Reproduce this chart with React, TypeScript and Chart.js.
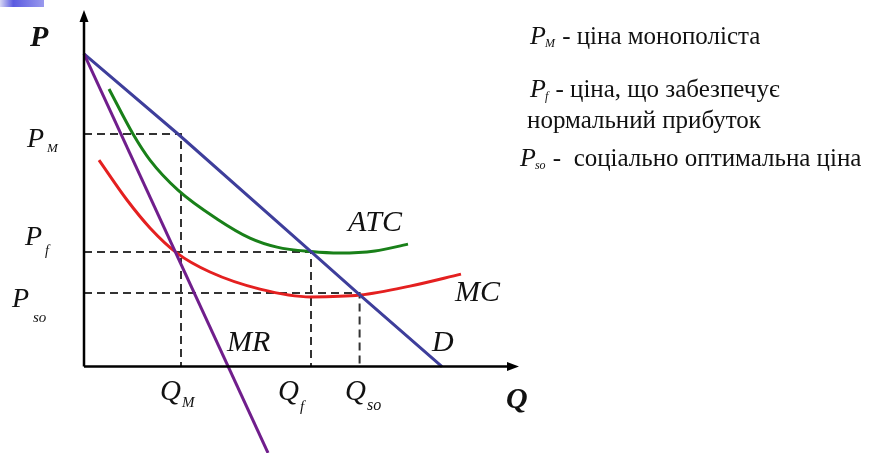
import React, { useEffect, useRef } from "react";
import { Chart, registerables } from "chart.js";

Chart.register(...registerables);

// ---- data (Q = quantity units, P = price units) ----
const demandQ = [0, 23.5, 56.75, 69, 89.5];
const demandP = [104.2, 77.5, 38.3, 23.8, 0];

const mrQ = [0, 46];
const mrP = [104.2, -28.8];

const atcQ = [6.25, 12.25, 16.5, 23.5, 33.25, 41.5, 48.25, 56.75, 64, 72.75, 81];
const atcP = [92.5, 77.5, 68.8, 58.8, 49.2, 42.8, 39.8, 38.3, 37.8, 38.5, 40.8];

const mcQ = [3.75, 10.75, 16.5, 23.25, 31.5, 44, 56.75, 69, 81.5, 94.25];
const mcP = [68.8, 55.5, 46.2, 37.8, 31.5, 25.8, 23.2, 23.8, 26.8, 30.8];

const priceLevels = [77.5, 38.2, 24.5]; // P_M, P_f, P_so
const quantityLevels = [24.25, 56.75, 68.9]; // Q_M, Q_f, Q_so

const axisEndQ = 108.75;
const axisEndP = 118.8;

const xRange = [-21, 196.75];
const yRange = [-28.83, 122.17];

const legendLines = [
  { main: "P", sub: "M", text: " - ціна монополіста" },
  { main: "P", sub: "f", text: " - ціна, що забезпечує" },
  { main: "", sub: "", text: "нормальний прибуток" },
  { main: "P", sub: "so", text: " -  соціально оптимальна ціна" },
];

const SERIF = '"Liberation Serif", "Times New Roman", serif';

const pts = (xs: number[], ys: number[]) => xs.map((x, i) => ({ x, y: ys[i] }));

const D_COLOR = "rgb(62,62,155)";
const MR_COLOR = "rgb(112,30,140)";
const ATC_COLOR = "rgb(25,128,25)";
const MC_COLOR = "rgb(228,32,32)";
const DASH_COLOR = "#333333";

const overlayPlugin = {
  id: "econOverlay",
  afterDatasetsDraw(chart: any) {
    const ctx: CanvasRenderingContext2D = chart.ctx;
    const xs = chart.scales.x;
    const ys = chart.scales.y;
    const px = (v: number) => xs.getPixelForValue(v);
    const py = (v: number) => ys.getPixelForValue(v);

    ctx.save();
    // axes
    const ox = px(0);
    const oy = py(0);
    const tx = px(axisEndQ);
    const ty = py(axisEndP);
    ctx.strokeStyle = "#000";
    ctx.fillStyle = "#000";
    ctx.lineWidth = 2.5;
    ctx.beginPath();
    ctx.moveTo(ox, oy);
    ctx.lineTo(ox, ty + 8);
    ctx.moveTo(ox, oy);
    ctx.lineTo(tx - 8, oy);
    ctx.stroke();
    // arrowheads
    ctx.beginPath();
    ctx.moveTo(ox, ty);
    ctx.lineTo(ox - 4.5, ty + 12);
    ctx.lineTo(ox + 4.5, ty + 12);
    ctx.closePath();
    ctx.fill();
    ctx.beginPath();
    ctx.moveTo(tx, oy);
    ctx.lineTo(tx - 12, oy - 4.5);
    ctx.lineTo(tx - 12, oy + 4.5);
    ctx.closePath();
    ctx.fill();

    ctx.fillStyle = "#111";
    ctx.textBaseline = "middle";
    ctx.textAlign = "left";
    const put = (t: string, x: number, y: number, font: string) => {
      ctx.font = font;
      ctx.fillText(t, x, y);
    };
    const it = (s: number) => `italic ${s}px ${SERIF}`;
    const bit = (s: number) => `italic bold ${s}px ${SERIF}`;

    // axis titles
    put("P", 30, 38, bit(30));
    put("Q", 506, 400, bit(30));

    // price labels
    put("P", 27, 140, it(28));
    put("M", 47, 149, it(13));
    put("P", 25, 238, it(28));
    put("f", 45, 251, it(14));
    put("P", 12, 300, it(28));
    put("so", 33, 318, it(15));

    // quantity labels
    put("Q", 160, 392, it(29));
    put("M", 182, 403, it(15));
    put("Q", 278, 392, it(29));
    put("f", 300, 407, it(15));
    put("Q", 345, 392, it(29));
    put("so", 367, 406, it(16));

    // curve labels
    put("MR", 227, 343, it(30));
    put("D", 432, 343, it(30));
    put("MC", 455, 293, it(30));
    put("ATC", 348, 223, it(30));

    // legend text
    const rowY = [37, 90, 121, 159];
    const rowX = [530, 530, 527, 520];
    legendLines.forEach((l, i) => {
      let x = rowX[i];
      const y = rowY[i];
      if (l.main) {
        put(l.main, x, y, it(26));
        ctx.font = it(26);
        x += ctx.measureText(l.main).width - 1;
        put(l.sub, x, y + 7, it(12));
        ctx.font = it(12);
        x += ctx.measureText(l.sub).width + 1;
      }
      put(l.text, x, y, `25px ${SERIF}`);
    });
    ctx.restore();
  },
};

export default function App() {
  const ref = useRef<HTMLCanvasElement | null>(null);

  useEffect(() => {
    if (!ref.current) return;
    const dashed = (q: number, p: number) => ({
      data: [
        { x: 0, y: p },
        { x: q, y: p },
        { x: q, y: 0 },
      ],
      borderColor: DASH_COLOR,
      borderWidth: 2,
      borderDash: [8, 5],
      pointRadius: 0,
      showLine: true,
      fill: false,
      tension: 0,
    });
    const curve = (data: any[], color: string, smooth: boolean) => ({
      data,
      borderColor: color,
      borderWidth: 3,
      pointRadius: 0,
      showLine: true,
      fill: false,
      cubicInterpolationMode: smooth ? ("monotone" as const) : ("default" as const),
      tension: smooth ? 0.4 : 0,
    });
    const chart = new Chart(ref.current, {
      type: "scatter",
      data: {
        datasets: [
          curve(pts(mrQ, mrP), MR_COLOR, false),
          curve(pts(demandQ, demandP), D_COLOR, false),
          curve(pts(mcQ, mcP), MC_COLOR, true),
          curve(pts(atcQ, atcP), ATC_COLOR, true),
          dashed(quantityLevels[0], priceLevels[0]),
          dashed(quantityLevels[1], priceLevels[1]),
          dashed(quantityLevels[2], priceLevels[2]),
        ] as any,
      },
      options: {
        animation: false,
        responsive: false,
        maintainAspectRatio: false,
        layout: { padding: 0 },
        plugins: {
          legend: { display: false },
          tooltip: { enabled: false },
        },
        scales: {
          x: { type: "linear", min: xRange[0], max: xRange[1], display: false },
          y: { type: "linear", min: yRange[0], max: yRange[1], display: false },
        },
      },
      plugins: [overlayPlugin],
    });
    return () => chart.destroy();
  }, []);

  return (
    <div style={{ position: "absolute", left: 0, top: 0, width: 871, height: 453, background: "#fff" }}>
      <canvas ref={ref} width={871} height={453} style={{ display: "block" }} />
      <div
        style={{
          position: "absolute",
          left: 0,
          top: 0,
          width: 44,
          height: 7,
          background: "linear-gradient(to right, #d8d8f4 0%, #5a5ae0 30%, #9a9aee 100%)",
        }}
      />
    </div>
  );
}
